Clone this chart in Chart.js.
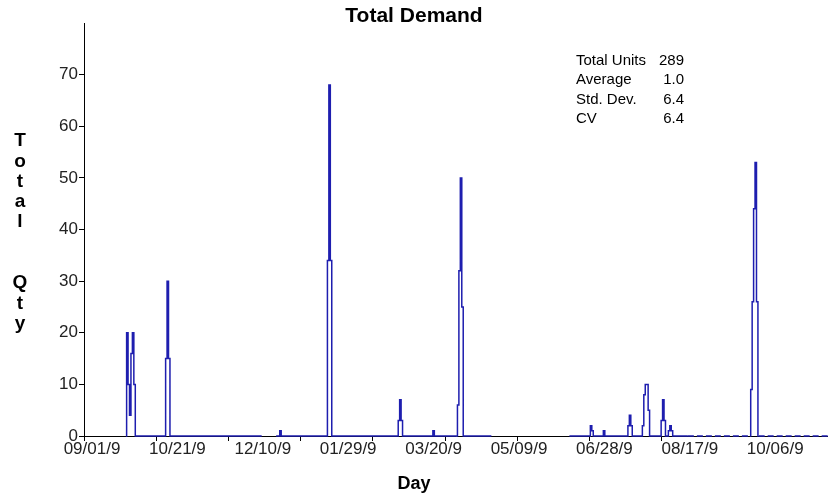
<!DOCTYPE html>
<html><head><meta charset="utf-8">
<script src="https://cdn.jsdelivr.net/npm/chart.js@4.4.0/dist/chart.umd.min.js"></script>
<style>html,body{margin:0;padding:0;background:#fff;}#wrap{width:828px;height:500px;position:relative;}</style>
</head><body><div id="wrap"><canvas id="c" width="828" height="500"></canvas></div>
<script>
const chartTitle = 'Total Demand';
const xAxisTitle = 'Day';
const yAxisTitle = ['T','o','t','a','l','','','Q','t','y'];
const dateLabels = ['09/01/9','10/21/9','12/10/9','01/29/9','03/20/9','05/09/9','06/28/9','08/17/9','10/06/9'];
const tickDays = [0,50,100,150,200,250,300,350,400];
const yTickValues = [0,10,20,30,40,50,60,70];
const statNames = ['Total Units','Average','Std. Dev.','CV'];
const statValues = ['289','1.0','6.4','6.4'];
const totalDays = 515;
const demandDays = [30,31,32,33,34,35, 57,58,59, 136, 169,170,171, 218,219,220, 242, 259,260,261,262, 351,352, 360, 377,378,379, 387,388,389,390,391, 400,401,402, 405,406,407, 462,463,464,465,466];
const demandQty  = [20,10,4,16,20,10, 15,30,15, 1, 34,68,34, 3,7,3, 1, 6,32,50,25, 2,1, 1, 2,4,2, 2,8,10,10,5, 3,7,3, 1,2,1, 9,26,44,53,26];
const missingRanges = [[0,28],[124,132],[283,335]];
const dashedRanges = [[418,461],[467,515]];

const values = new Array(totalDays + 1).fill(0);
demandDays.forEach((d, i) => { values[d] = demandQty[i]; });
missingRanges.forEach(([a, b]) => { for (let d = a; d <= b; d++) values[d] = null; });
const points = values.map((v, d) => ({x: d, y: v}));
const inDashed = i => dashedRanges.some(([a, b]) => i >= a && i < b);

const FONT = 'Liberation Sans, Arial, sans-serif';
const lineColor = 'rgb(30,30,175)';

const overlayText = {
  id: 'overlayText',
  afterDraw(chart) {
    const ctx = chart.ctx;
    ctx.save();
    ctx.fillStyle = '#000';
    ctx.font = 'bold 19px ' + FONT;
    ctx.textAlign = 'center';
    ctx.textBaseline = 'middle';
    yAxisTitle.forEach((ch, i) => { if (ch) ctx.fillText(ch, 20, 141 + i * 20.3); });
    ctx.font = '15px ' + FONT;
    statNames.forEach((n, i) => {
      const y = 61 + i * 19.3;
      ctx.textAlign = 'left';
      ctx.fillText(n, 576, y);
      ctx.textAlign = 'right';
      ctx.fillText(statValues[i], 684, y);
    });
    ctx.restore();
  }
};

new Chart(document.getElementById('c'), {
  type: 'line',
  data: {
    datasets: [{
      data: points,
      xAxisID: 'x',
      borderColor: lineColor,
      borderWidth: 1.5,
      pointRadius: 0,
      stepped: 'middle',
      spanGaps: false,
      clip: false,
      segment: { borderDash: ctx => inDashed(ctx.p0DataIndex) ? [6, 3] : undefined }
    }]
  },
  options: {
    responsive: false,
    animation: false,
    devicePixelRatio: 1,
    layout: { padding: 0 },
    plugins: {
      legend: { display: false },
      tooltip: { enabled: false },
      title: { display: true, text: chartTitle, color: '#000', font: { family: FONT, size: 21, weight: 'bold' }, padding: { top: 4, bottom: -6.2 } },
      subtitle: { display: true, text: xAxisTitle, position: 'bottom', color: '#000', font: { family: FONT, size: 18, weight: 'bold' }, padding: { top: 0, bottom: 5.2 } }
    },
    scales: {
      x: {
        type: 'linear', position: 'bottom', weight: 0, min: 0, max: totalDays,
        afterBuildTicks: s => { s.ticks = tickDays.map(v => ({value: v})); },
        ticks: { display: false },
        grid: { drawOnChartArea: false, drawTicks: true, tickLength: 5, color: '#000', lineWidth: 1 },
        border: { display: true, color: '#000', width: 1 }
      },
      x2: {
        type: 'linear', position: 'bottom', weight: 1, min: -0.0937, max: 8.618,
        afterBuildTicks: s => { s.ticks = dateLabels.map((_, i) => ({value: i})); },
        afterFit: s => { s.height = 32.2; },
        ticks: { autoSkip: false, maxRotation: 0, minRotation: 0, padding: 0, color: '#222', font: { family: FONT, size: 17, lineHeight: 1 }, callback: v => dateLabels[v] },
        grid: { display: false, drawTicks: false, tickLength: 0 },
        border: { display: false }
      },
      y: {
        min: 0, max: 80,
        afterBuildTicks: s => { s.ticks = yTickValues.map(v => ({value: v})); },
        afterFit: s => { s.width = 84; },
        ticks: { padding: 1, color: '#222', font: { family: FONT, size: 17 } },
        grid: { drawOnChartArea: false, drawTicks: true, tickLength: 5, color: '#000' },
        border: { display: true, color: '#000', width: 1 }
      }
    }
  },
  plugins: [overlayText]
});
</script></body></html>
